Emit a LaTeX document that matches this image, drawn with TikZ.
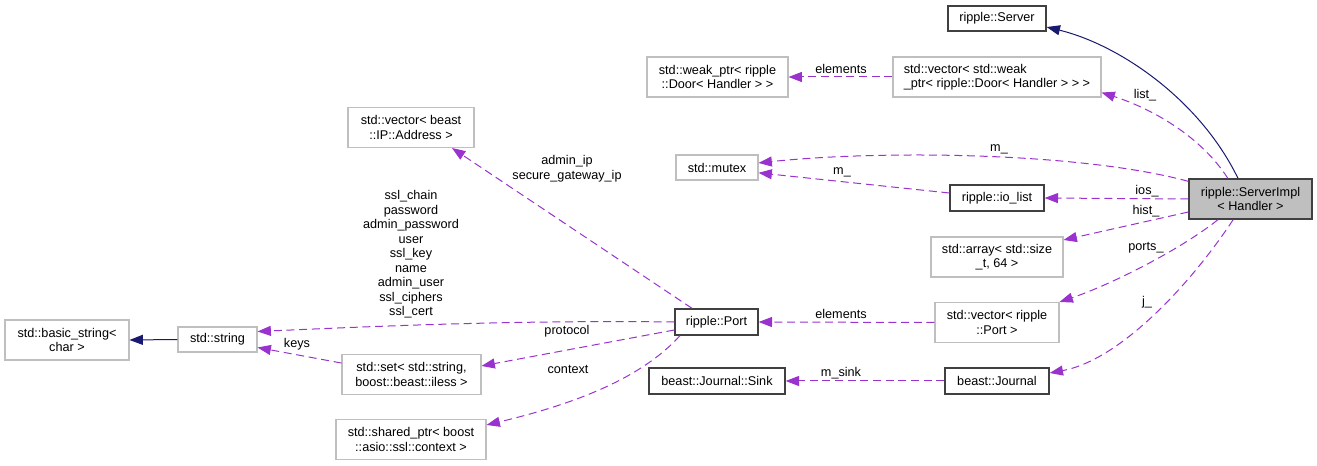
\documentclass[tikz,border=0pt]{standalone}
\usepackage{fontspec}
\setmainfont{Liberation Sans}
\usepackage{tikz}
\usetikzlibrary{arrows.meta}
\definecolor{orchid}{RGB}{154,50,205}
\definecolor{midnight}{RGB}{25,25,112}
\definecolor{grey75}{RGB}{191,191,191}

\begin{document}
\begin{tikzpicture}[x=0.75pt,y=-0.75pt,
          font=\fontsize{9.5}{10.9}\selectfont,
          cls/.style={draw=grey75,line width=0.8pt,fill=white,align=center,
                      inner sep=1pt,minimum height=30pt},
          member/.style={cls,draw=black!75,line width=1pt,minimum height=19.5pt},
          focus/.style={member,fill=grey75,minimum height=30pt},
          usage/.style={-{Triangle[length=10pt,width=7.5pt]},orchid,
                        line width=0.75pt,dash pattern=on 6pt off 3.5pt},
          inherit/.style={-{Triangle[length=10pt,width=7.5pt]},midnight,line width=0.75pt},
          lbl/.style={inner sep=0pt,align=center}]
        \useasboundingbox (0,0) rectangle (1317,466);
        \node[cls,minimum width=93pt] (basic) at (67,340) {std::basic\_string<\\char >};
        \node[cls,minimum width=59.25pt,minimum height=18.75pt] (string) at (217.5,339.5) {std::string};
        \node[cls,minimum width=104.25pt] (set) at (411.5,374.5) {std::set< std::string,\\boost::beast::iless >};
        \node[cls,minimum width=112.5pt] (shared) at (411,439.5) {std::shared\_ptr< boost\\::asio::ssl::context >};
        \node[cls,minimum width=94.5pt] (vecip) at (411,127.5) {std::vector< beast\\::IP::Address >};
        \node[member,minimum width=62.25pt] (port) at (716.5,322) {ripple::Port};
        \node[member,minimum width=102pt] (sink) at (717,381) {beast::Journal::Sink};
        \node[member,minimum width=78pt] (journal) at (997,381) {beast::Journal};
        \node[cls,minimum width=93pt] (vecport) at (997,322.5) {std::vector< ripple\\::Port >};
        \node[cls,minimum width=99pt] (array) at (997,257) {std::array< std::size\\\_t, 64 >};
        \node[member,minimum width=70.5pt] (iolist) at (997,198) {ripple::io\_list};
        \node[focus,minimum width=92.25pt] (impl) at (1250.5,199) {ripple::ServerImpl\\< Handler >};
        \node[cls,minimum width=61.5pt,minimum height=18.75pt] (mutex) at (717,167.5) {std::mutex};
        \node[member,minimum width=73.5pt,minimum height=18.75pt] (server) at (997,18.5) {ripple::Server};
        \node[cls,minimum width=105.75pt] (weakptr) at (717.5,77) {std::weak\_ptr< ripple\\::Door< Handler > >};
        \node[cls,minimum width=156pt,align=left] (vecweak) at (997,77) {std::vector< std::weak\\\_ptr< ripple::Door< Handler > > >};

        \draw[inherit] ([xshift=-9.4pt]impl.north) .. controls (1200,100) and (1120,45) .. ([yshift=-6.4pt]server.east);
        \draw[inherit] (string.west) -- (basic.east);

        \draw[usage] ([xshift=-17pt]impl.north) .. controls (1200,135) and (1150,108) .. ([yshift=3.75pt]vecweak.south east);
        \draw[usage] (vecweak.west) -- (weakptr.east);
        \draw[usage] ([yshift=-2.25pt]impl.north west) .. controls (1080,152) and (880,150) .. ([yshift=3.4pt]mutex.east);
        \draw[usage] (impl.west) -- (iolist.east);
        \draw[usage] ([yshift=3.75pt]iolist.west) -- ([yshift=-4pt]mutex.east);
        \draw[usage] ([yshift=-9.75pt]impl.west) -- ([yshift=12.75pt]array.east);
        \draw[usage] ([xshift=-24.4pt]impl.south) .. controls (1180,250) and (1110,285) .. (vecport.north east);
        \draw[usage] ([xshift=-13pt]impl.south) .. controls (1190,285) and (1120,360) .. ([yshift=6pt]journal.east);
        \draw[usage] (journal.west) -- (sink.east);
        \draw[usage] (vecport.west) -- (port.east);
        \draw[usage] ([xshift=-18.4pt]port.north) -- ([xshift=30.75pt]vecip.south);
        \draw[usage] (port.west) .. controls (520,320) and (380,326) .. ([yshift=6pt]string.east);
        \draw[usage] ([yshift=-6pt]port.west) -- ([yshift=6.4pt]set.east);
        \draw[usage] ([xshift=-27.4pt]port.south) .. controls (640,380) and (570,405) .. ([yshift=10.9pt]shared.east);
        \draw[usage] ([yshift=8.6pt]set.west) -- ([yshift=-6pt]string.east);

        \node[lbl] (l-list) at (1145,95) {list\_};
        \node[lbl] (l-elemdoor) at (841,69) {elements};
        \node[lbl] (l-mimpl) at (999,149) {m\_};
        \node[lbl] (l-mio) at (842,172) {m\_};
        \node[lbl] (l-ios) at (1147,191) {ios\_};
        \node[lbl] (l-hist) at (1146,211) {hist\_};
        \node[lbl] (l-ports) at (1146,248) {ports\_};
        \node[lbl] (l-j) at (1147,302) {j\_};
        \node[lbl] (l-elemport) at (841,314) {elements};
        \node[lbl] (l-sink) at (841,373) {m\_sink};
        \node[lbl] (l-ip) at (567,168.5) {admin\_ip\\secure\_gateway\_ip};
        \node[lbl] (l-strings) at (411,254.5) {ssl\_chain\\password\\admin\_password\\user\\ssl\_key\\name\\admin\_user\\ssl\_ciphers\\ssl\_cert};
        \node[lbl] (l-proto) at (567,331) {protocol};
        \node[lbl] (l-ctx) at (568,369) {context};
        \node[lbl] (l-keys) at (297,344) {keys};
      \end{tikzpicture}
\end{document}
